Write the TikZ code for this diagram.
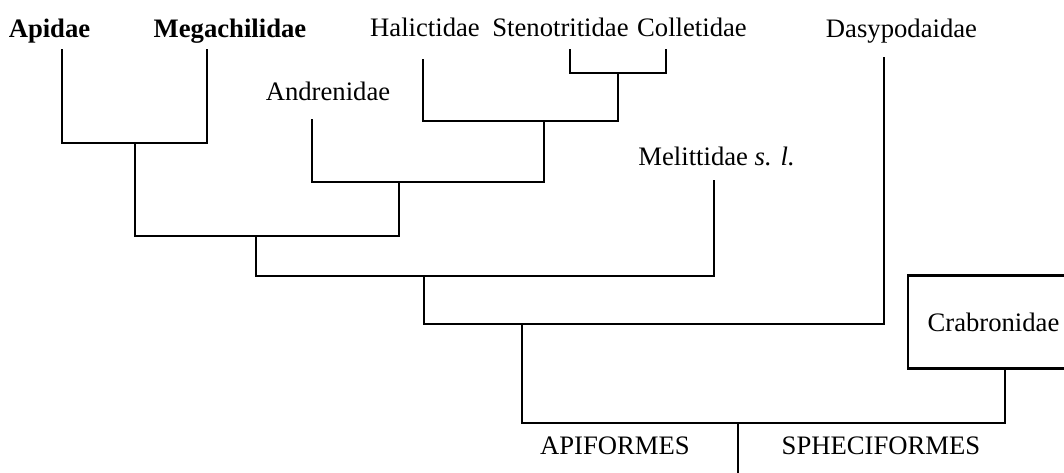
\documentclass[tikz,border=0pt]{standalone}
\usepackage{fontspec}
\setmainfont{Liberation Serif}
\usetikzlibrary{positioning}

\begin{document}
\begin{tikzpicture}[
    x=0.45pt, y=-0.45pt,
    font=\fontsize{12}{14}\selectfont,
    taxon/.style={inner sep=0pt, anchor=base},
    group/.style={taxon},
    outbox/.style={rectangle, draw, line width=1.2pt, minimum width=77pt, minimum height=41.9pt, inner sep=0pt},
    branch/.style={line width=1.2pt, line cap=rect}
]
\useasboundingbox (0,0) rectangle (1064,472);

% taxa
\node[taxon] (apidae) at (49.5,37) {\textbf{Apidae}};
\node[taxon] (mega) at (230,37) {\textbf{Megachilidae}};
\node[taxon] (hal) at (425,36) {Halictidae};
\node[taxon] (steno) at (560.5,36) {Stenotritidae};
\node[taxon] (colle) at (692,36) {Colletidae};
\node[taxon] (andr) at (328,100) {Andrenidae};
\node[taxon, anchor=base west] (meli) at (638,165) {Melittidae \textit{s. l.}};
\node[taxon] (dasy) at (901.5,37) {Dasypodaidae};
\node[outbox] (crab) at (993.5,322) {Crabronidae};
\node[group] (apif) at (615,454) {APIFORMES};
\node[group] (sphe) at (881,454) {SPHECIFORMES};

% branch tips
\coordinate (apidaeT) at (62,50);
\coordinate (megaT) at (207,50);
\coordinate (halT) at (423,60);
\coordinate (stenoT) at (570,50);
\coordinate (colleT) at (666,50);
\coordinate (andrT) at (312,120);
\coordinate (meliT) at (714,181);
\coordinate (dasyT) at (884,58);
\coordinate (crabT) at (1005,368);

% clades
\coordinate (c1) at (135,143);
\coordinate (c2) at (618,73);
\coordinate (c3) at (544,121);
\coordinate (c4) at (399,182);
\coordinate (c5) at (256,236);
\coordinate (c6) at (424,276);
\coordinate (c7) at (522,324);
\coordinate (c8) at (738,423);
\coordinate (root) at (738,480);

\draw[branch] (apidaeT) |- (c1) -| (megaT);
\draw[branch] (stenoT) |- (c2) -| (colleT);
\draw[branch] (halT) |- (c3) -| (c2);
\draw[branch] (andrT) |- (c4) -| (c3);
\draw[branch] (c1) |- (c5) -| (c4);
\draw[branch] (c5) |- (c6) -| (meliT);
\draw[branch] (c6) |- (c7) -| (dasyT);
\draw[branch] (c7) |- (c8) -| (crabT);
\draw[branch] (c8) -- (root);

\end{tikzpicture}
\end{document}
